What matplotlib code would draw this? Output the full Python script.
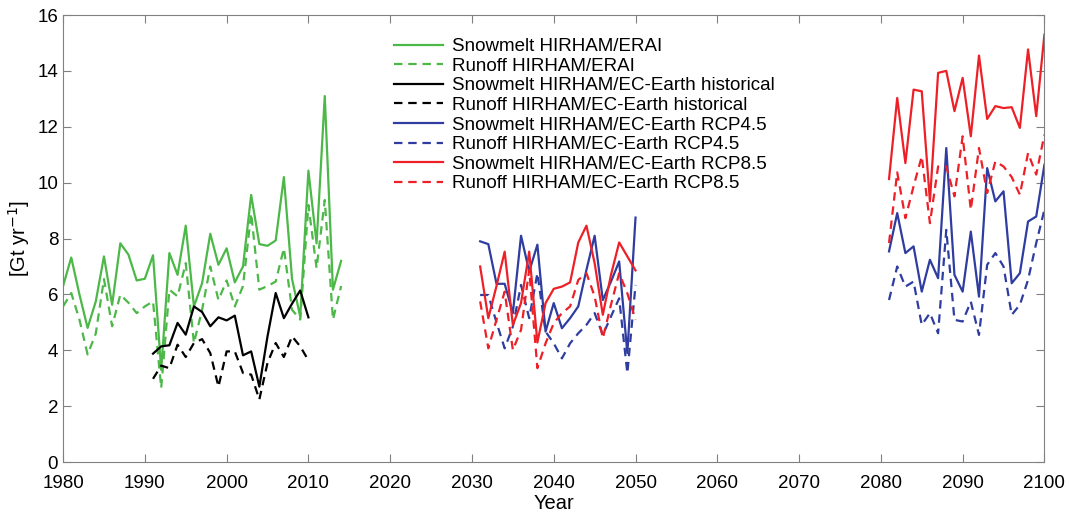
import matplotlib.pyplot as plt
import numpy as np

plt.rcParams['font.family'] = ['Liberation Sans', 'DejaVu Sans']

# ERA-Interim driven, 1980-2014
years_erai = list(range(1980, 2015))
snow_erai = [6.3, 7.32, 6.0, 4.8, 5.75, 7.36, 5.63, 7.83, 7.42, 6.5,
             6.56, 7.4, 3.3, 7.48, 6.7, 8.46, 5.57, 6.4, 8.17, 7.06,
             7.65, 6.43, 7.0, 9.56, 7.8, 7.74, 7.93, 10.2, 6.55, 5.2,
             10.43, 7.83, 13.1, 6.17, 7.2]
runoff_erai = [5.57, 6.05, 5.1, 3.85, 4.6, 6.55, 4.86, 5.99, 5.7, 5.33,
               5.57, 5.75, 2.65, 6.17, 5.93, 7.12, 4.26, 5.45, 7.0, 5.8,
               6.5, 5.57, 6.3, 8.9, 6.17, 6.3, 6.46, 7.65, 5.45, 5.1,
               9.2, 6.94, 9.38, 5.1, 6.3]

# EC-Earth historical, 1991-2010
years_hist = list(range(1991, 2011))
snow_hist = [3.88, 4.14, 4.18, 4.98, 4.56, 5.57, 5.37, 4.86, 5.18, 5.07,
             5.24, 3.82, 3.96, 2.7, 4.5, 6.05, 5.15, 5.67, 6.14, 5.18]
runoff_hist = [2.98, 3.45, 3.36, 4.2, 3.76, 4.26, 4.4, 3.9, 2.7, 3.96,
               3.96, 3.19, 3.13, 2.24, 3.55, 4.26, 3.76, 4.5, 4.14, 3.64]

# scenarios, 2031-2050 and 2081-2100
years_mid = list(range(2031, 2051))
years_end = list(range(2081, 2101))
snow_45_mid = [7.9, 7.8, 6.38, 6.38, 5.33, 8.1, 6.82, 7.78, 4.67, 5.69,
               4.79, 5.15, 5.57, 6.88, 8.1, 5.8, 6.46, 7.18, 3.9, 8.75]
runoff_45_mid = [5.98, 5.98, 5.0, 4.07, 4.85, 6.34, 5.15, 6.76, 4.67, 4.25,
                 3.71, 4.25, 4.61, 4.91, 5.33, 4.55, 5.21, 5.86, 3.18, 6.34]
snow_85_mid = [7.0, 5.15, 6.3, 7.53, 4.9, 5.69, 7.53, 4.28, 5.69, 6.2,
               6.28, 6.43, 7.86, 8.46, 7.12, 5.27, 6.7, 7.86, 7.36, 6.86]
runoff_85_mid = [5.75, 4.07, 5.09, 6.1, 4.01, 4.73, 6.88, 3.36, 4.25, 4.97,
                 5.33, 5.57, 6.52, 6.76, 5.93, 4.43, 5.63, 6.76, 6.04, 5.09]
snow_45_end = [7.54, 8.91, 7.48, 7.72, 6.1, 7.24, 6.58, 11.24, 6.7, 6.1,
               8.25, 5.92, 10.52, 9.33, 9.69, 6.4, 6.76, 8.61, 8.79, 10.64]
runoff_45_end = [5.8, 7.0, 6.28, 6.46, 4.91, 5.33, 4.61, 8.31, 5.09, 5.03,
                 5.74, 4.55, 7.06, 7.48, 7.0, 5.27, 5.63, 6.52, 7.84, 9.03]
snow_85_end = [10.13, 13.03, 10.7, 13.33, 13.27, 9.33, 13.93, 14.0, 12.56, 13.75,
               11.66, 14.55, 12.28, 12.74, 12.67, 12.7, 11.96, 14.77, 12.38, 15.3]
runoff_85_end = [7.84, 10.37, 8.73, 9.87, 10.94, 8.55, 10.58, 10.58, 9.51, 11.66,
                 9.03, 11.24, 9.63, 10.76, 10.58, 10.2, 9.57, 11.06, 10.29, 11.72]

green = '#4cb848'
blue = '#2e3d9f'
red = '#ee2027'
lw = 1.6
dash = (3.8, 2.6)

fig = plt.figure(figsize=(10.69, 5.18), dpi=100)
ax = fig.add_axes([0.059, 0.108, 0.918, 0.863])

ax.plot(years_erai, snow_erai, color=green, lw=lw, label='Snowmelt HIRHAM/ERAI')
ax.plot(years_erai, runoff_erai, color=green, lw=lw, dashes=dash, label='Runoff HIRHAM/ERAI')
ax.plot(years_hist, snow_hist, color='black', lw=lw, label='Snowmelt HIRHAM/EC-Earth historical')
ax.plot(years_hist, runoff_hist, color='black', lw=lw, dashes=dash, label='Runoff HIRHAM/EC-Earth historical')
ax.plot(years_mid, snow_45_mid, color=blue, lw=lw, label='Snowmelt HIRHAM/EC-Earth RCP4.5')
ax.plot(years_mid, runoff_45_mid, color=blue, lw=lw, dashes=dash, label='Runoff HIRHAM/EC-Earth RCP4.5')
ax.plot(years_mid, snow_85_mid, color=red, lw=lw, label='Snowmelt HIRHAM/EC-Earth RCP8.5')
ax.plot(years_mid, runoff_85_mid, color=red, lw=lw, dashes=dash, label='Runoff HIRHAM/EC-Earth RCP8.5')
ax.plot(years_end, snow_45_end, color=blue, lw=lw)
ax.plot(years_end, runoff_45_end, color=blue, lw=lw, dashes=dash)
ax.plot(years_end, snow_85_end, color=red, lw=lw)
ax.plot(years_end, runoff_85_end, color=red, lw=lw, dashes=dash)

ax.set_xlim(1980, 2100)
ax.set_ylim(0, 16)
ax.set_xticks(np.arange(1980, 2101, 10))
ax.set_yticks(np.arange(0, 17, 2))
ax.tick_params(direction='in', top=True, right=True, labelsize=13.5, length=6, color='#808080')
ax.tick_params(axis='x', pad=9)
for s in ax.spines.values():
    s.set_color('#808080')
ax.set_xlabel('Year', fontsize=14.5, labelpad=2)
ax.set_ylabel('[Gt yr$^{-1}$]', fontsize=14.5)

ax.legend(loc='upper left', bbox_to_anchor=(0.33, 0.965), frameon=False,
          fontsize=13.5, handlelength=2.6, handletextpad=0.45,
          labelspacing=0.13, borderaxespad=0)

fig.savefig('out.png', dpi=100)
